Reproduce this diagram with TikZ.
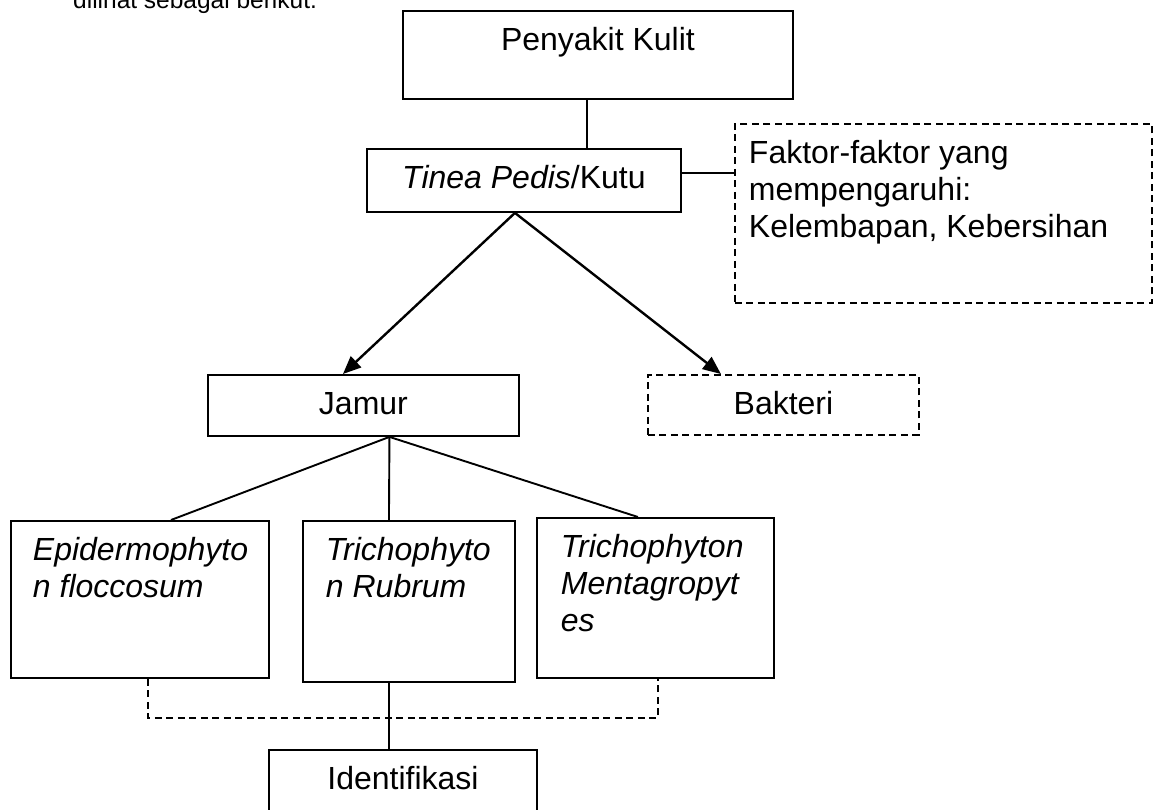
\documentclass[tikz,border=0pt]{standalone}
\usepackage{fontspec}
\setmainfont{Liberation Sans}
\usetikzlibrary{arrows.meta}
\newcommand\ctext[3]{\parbox[t][#2][t]{#1}{\centering\rule{0pt}{40pt}#3}}
\newcommand\ltext[4]{\parbox[t][#2][t]{#1}{\raggedright\leftskip=#3\rule{0pt}{40pt}#4}}
\begin{document}
\begin{tikzpicture}[x=1pt,y=-1pt,
  txt/.style={font=\fontsize{32pt}{37pt}\selectfont},
  box/.style={draw, line width=1.9pt, inner sep=0pt, anchor=north west, txt},
  dbox/.style={box, dash pattern=on 7pt off 4.5pt},
  conn/.style={line width=1.9pt},
  dconn/.style={conn, dash pattern=on 7pt off 4.5pt},
  arr/.style={line width=2.4pt, -{Triangle[length=18pt,width=15pt]}},
]
\useasboundingbox (0,0) rectangle (1154,809);
\node[font=\fontsize{24.5pt}{28pt}\selectfont, anchor=base west, inner sep=0pt] (intro) at (73,8) {dilihat sebagai berikut.};
\node[box] (pk) at (402,10) {\ctext{390pt}{88pt}{Penyakit Kulit}};
\node[box] (tp) at (366,148) {\ctext{314pt}{63pt}{\textit{Tinea Pedis}/Kutu}};
\node[dbox] (fk) at (734,123) {\ltext{417pt}{179pt}{14pt}{Faktor-faktor yang\\mempengaruhi:\\Kelembapan, Kebersihan}};
\node[box] (jm) at (207,374) {\ctext{311pt}{61pt}{Jamur}};
\node[dbox] (bk) at (647,374) {\ctext{271pt}{60pt}{Bakteri}};
\node[box] (ep) at (10,520) {\ltext{258pt}{157pt}{22pt}{\itshape Epidermophyto\\n floccosum}};
\node[box] (rb) at (302,520) {\ltext{212pt}{161pt}{23pt}{\itshape Trichophyto\\n Rubrum}};
\node[box] (mt) at (536,517) {\ltext{237pt}{160pt}{24pt}{\itshape Trichophyton\\Mentagropyt\\es}};
\node[box] (id) at (268,749) {\ctext{268pt}{72pt}{Identifikasi}};
\coordinate (dashy) at (0,718);
\draw[conn] ([xshift=-11pt]pk.south) -- ([xshift=-11pt]pk.south |- tp.north);
\draw[conn] ([yshift=7.5pt]tp.east) -- ([yshift=7.5pt]tp.east -| fk.west);
\draw[arr] ([xshift=-9pt]tp.south) -- ([xshift=-20.5pt]jm.north);
\draw[arr] ([xshift=-9pt]tp.south) -- ([xshift=-62.5pt]bk.north);
\draw[conn] ([xshift=26pt]jm.south) -- ([xshift=31pt]ep.north);
\draw[conn] ([xshift=26pt]jm.south) -- ([xshift=-20pt]rb.north);
\draw[conn] ([xshift=26pt]jm.south) -- ([xshift=-17.5pt]mt.north);
\draw[conn] ([xshift=-20pt]rb.south) -- ([xshift=-20pt]rb.south |- id.north);
\draw[dconn] ([xshift=8pt]ep.south) -- ([xshift=8pt]ep.south |- dashy) -| ([xshift=2.5pt]mt.south);
\end{tikzpicture}
\end{document}
